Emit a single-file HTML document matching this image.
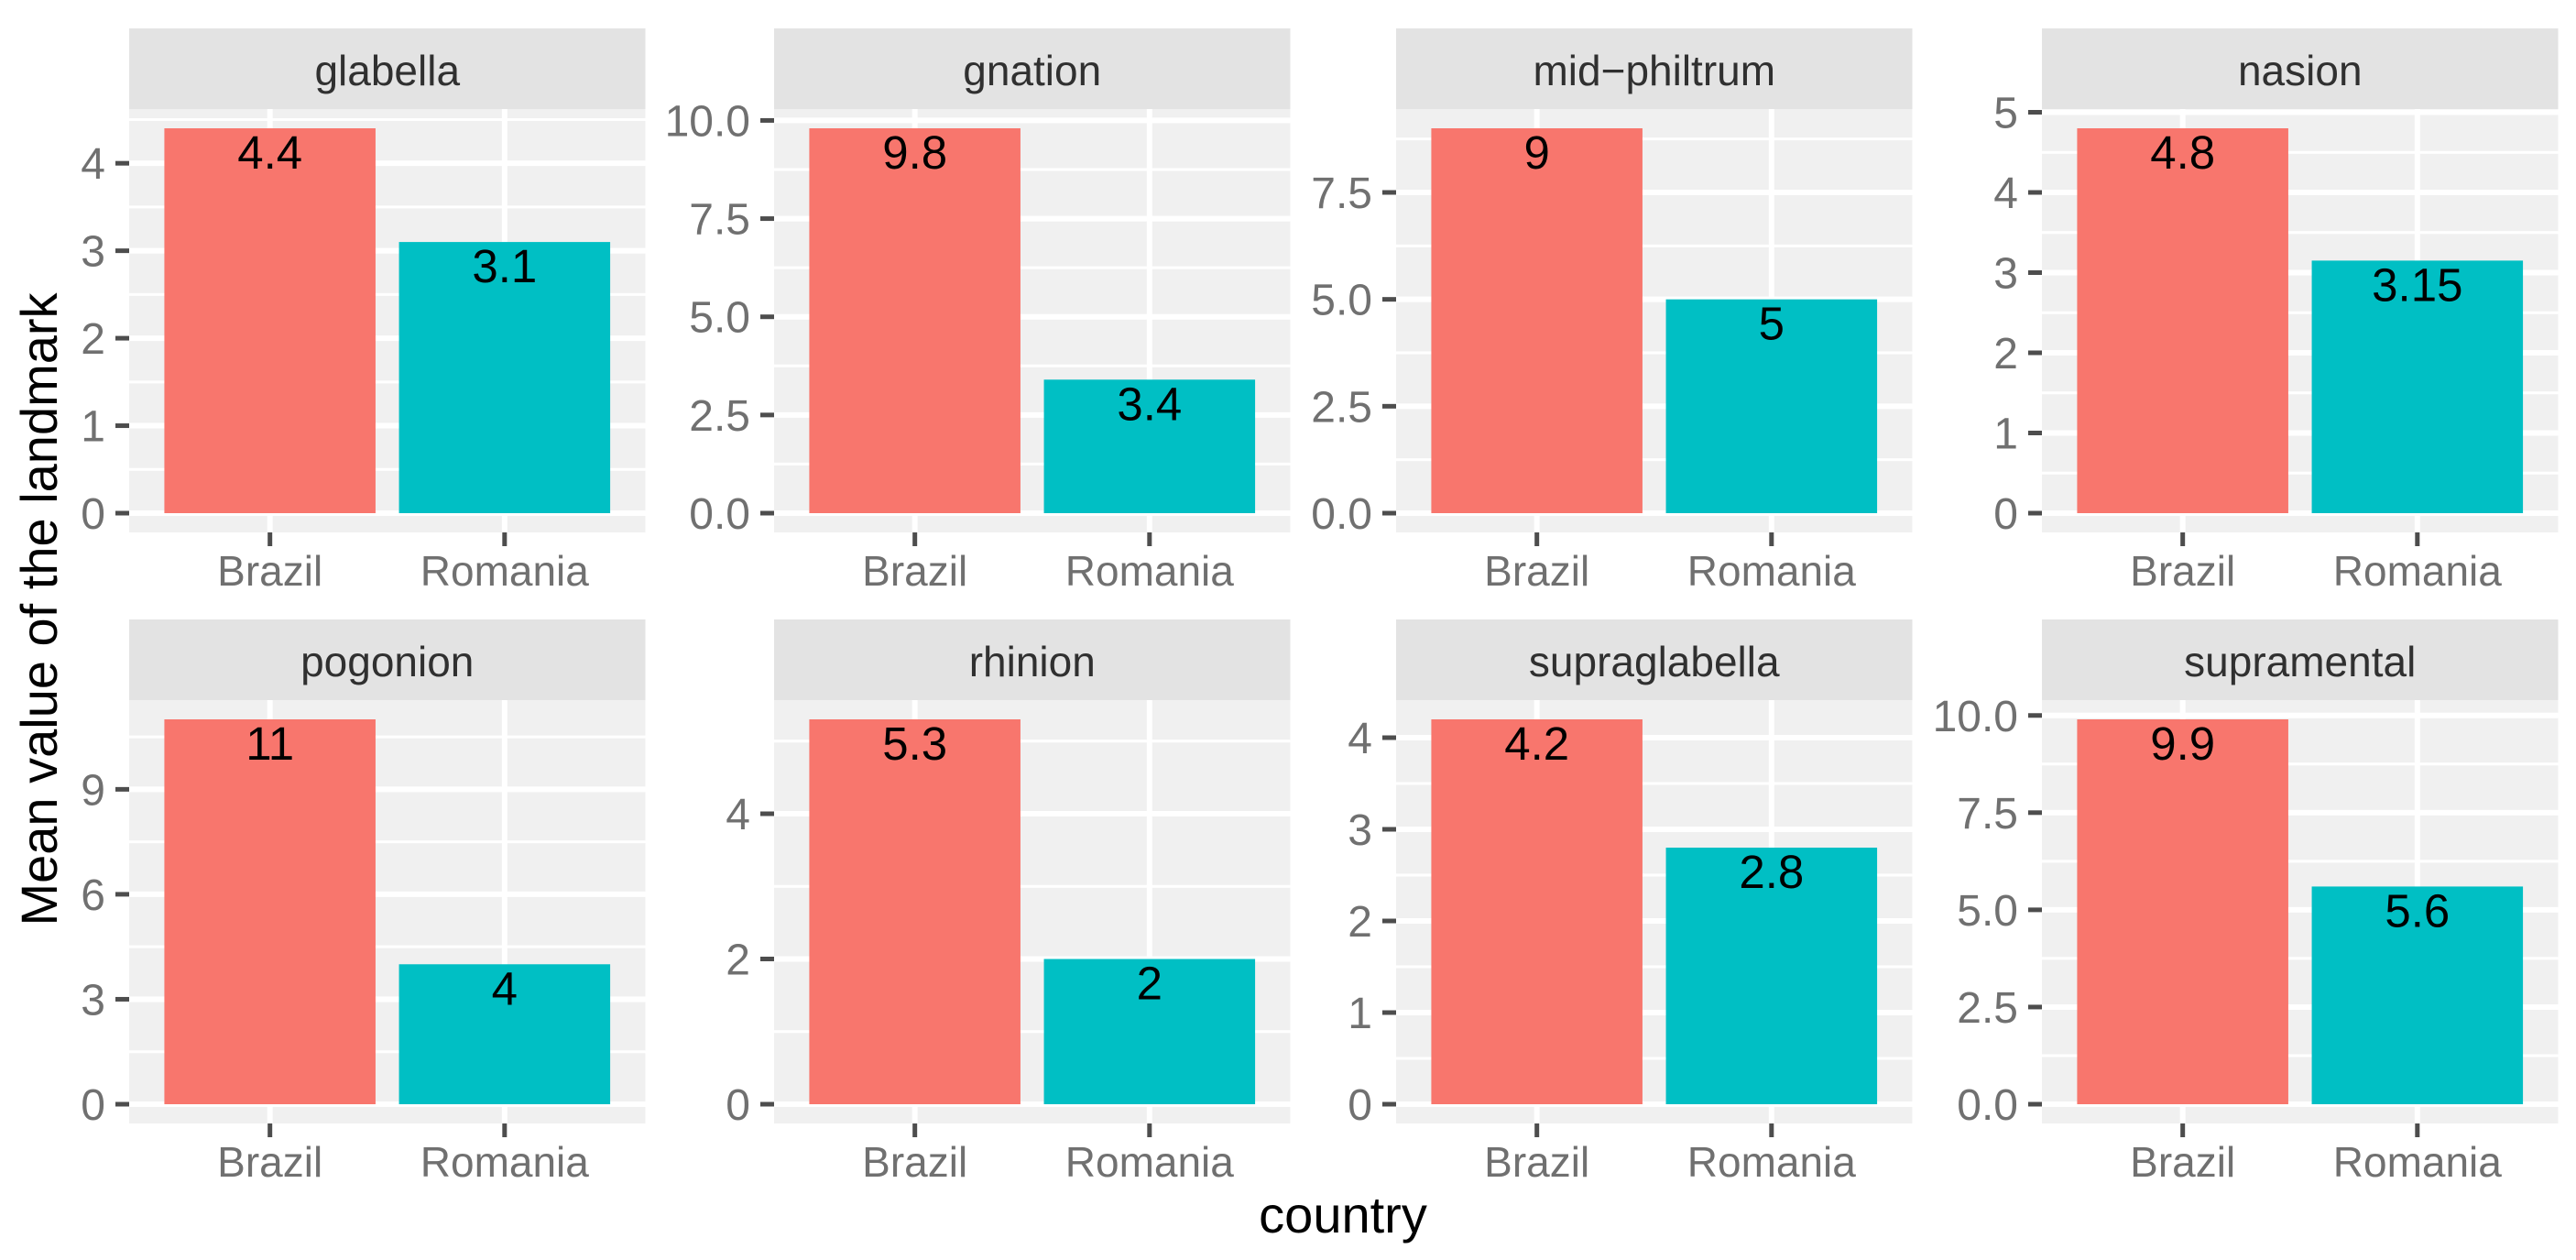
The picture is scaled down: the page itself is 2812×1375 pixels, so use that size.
<!DOCTYPE html>
<html><head><meta charset="utf-8"><style>
html,body{margin:0;padding:0;background:#fff;}
svg{display:block;font-family:"Liberation Sans",Arial,sans-serif;}
</style></head><body>
<svg id="chart" width="2812" height="1375" viewBox="0 0 2812 1375" xmlns="http://www.w3.org/2000/svg">
<rect width="2812" height="1375" fill="#ffffff"/>
<text transform="translate(62,665) rotate(-90)" text-anchor="middle" font-size="56" fill="#000">Mean value of the landmark</text>
<text x="1466" y="1345" text-anchor="middle" font-size="56" fill="#000">country</text>
</svg>
<script>
const facets = ["glabella","gnation","mid−philtrum","nasion","pogonion","rhinion","supraglabella","supramental"];
const categories = ["Brazil","Romania"];
const brazilValues = [4.4, 9.8, 9, 4.8, 11, 5.3, 4.2, 9.9];
const romaniaValues = [3.1, 3.4, 5, 3.15, 4, 2, 2.8, 5.6];
const brazilLabels = ["4.4","9.8","9","4.8","11","5.3","4.2","9.9"];
const romaniaLabels = ["3.1","3.4","5","3.15","4","2","2.8","5.6"];
const tickValues = [[0,1,2,3,4],[0,2.5,5,7.5,10],[0,2.5,5,7.5],[0,1,2,3,4,5],[0,3,6,9],[0,2,4],[0,1,2,3,4],[0,2.5,5,7.5,10]];
const tickLabels = [["0","1","2","3","4"],["0.0","2.5","5.0","7.5","10.0"],["0.0","2.5","5.0","7.5"],["0","1","2","3","4","5"],["0","3","6","9"],["0","2","4"],["0","1","2","3","4"],["0.0","2.5","5.0","7.5","10.0"]];
const colors = ["#F8766D","#00BFC4"];

const svg = document.getElementById('chart');
const NS = "http://www.w3.org/2000/svg";
function mk(tag, attrs, parent){
  const e = document.createElementNS(NS, tag);
  for (const k in attrs) e.setAttribute(k, attrs[k]);
  (parent||svg).appendChild(e);
  return e;
}
const colX = [141, 845, 1524, 2229];
const W = 563.5;
const rowStrip = [31, 676];
const stripH = 88;
const panelH = 462;

facets.forEach((name, i) => {
  const c = i % 4, r = Math.floor(i / 4);
  const px = colX[c], sy = rowStrip[r], py = sy + stripH, pb = py + panelH;
  const vals = [brazilValues[i], romaniaValues[i]];
  const labs = [brazilLabels[i], romaniaLabels[i]];
  const maxV = Math.max(...vals);
  const lo = -0.05 * maxV, hi = maxV * 1.05;
  const y = v => pb - (v - lo) / (hi - lo) * panelH;
  const x = k => px + (k + 1 - 0.4) / 2.2 * W;
  const g = mk('g', {});
  
  
  const strip = mk('rect', {x:px, y:sy, width:W, height:stripH, fill:'#E3E3E3'}, g);
  
  
  const st = mk('text', {x:px + W/2, y:sy + 62, 'text-anchor':'middle', 'font-size':46, fill:'#303030'}, g);
  st.textContent = name;
  
  
  const bg = mk('rect', {x:px, y:py, width:W, height:panelH, fill:'#F0F0F0'}, g);
  
  
  const tv = tickValues[i];
  const step = tv[1] - tv[0];
  for (let m = tv[0] - step/2; m <= hi; m += step) {
    if (m < lo) continue;
    const ln = mk('line', {x1:px, x2:px+W, y1:y(m), y2:y(m), stroke:'#fff', 'stroke-width':3}, g);
    
    
  }
  tv.forEach((t, j) => {
    const ln = mk('line', {x1:px, x2:px+W, y1:y(t), y2:y(t), stroke:'#fff', 'stroke-width':6}, g);
    
    
    const tk = mk('line', {x1:px-15, x2:px, y1:y(t), y2:y(t), stroke:'#4D4D4D', 'stroke-width':5}, g);
    
    
    const tl = mk('text', {x:px-26, y:y(t)+17, 'text-anchor':'end', 'font-size':48, fill:'#707070'}, g);
    tl.textContent = tickLabels[i][j];
    
    
  });
  categories.forEach((cat, k) => {
    const cx = x(k);
    const vl = mk('line', {x1:cx, x2:cx, y1:py, y2:pb, stroke:'#fff', 'stroke-width':6}, g);
    
    
  });
  categories.forEach((cat, k) => {
    const cx = x(k);
    const bw = 0.9 / 2.2 * W;
    const b = mk('rect', {x:cx - bw/2, y:y(vals[k]), width:bw, height:y(0) - y(vals[k]), fill:colors[k]}, g);
    
    
    const bl = mk('text', {x:cx, y:y(vals[k]) + 44, 'text-anchor':'middle', 'font-size':51, fill:'#000'}, g);
    bl.textContent = labs[k];
    
    
    const tk = mk('line', {x1:cx, x2:cx, y1:pb, y2:pb+15, stroke:'#4D4D4D', 'stroke-width':5}, g);
    
    
    const xl = mk('text', {x:cx, y:pb + 58, 'text-anchor':'middle', 'font-size':46, fill:'#707070'}, g);
    xl.textContent = cat;
    
    
  });
});
</script>
</body></html>
